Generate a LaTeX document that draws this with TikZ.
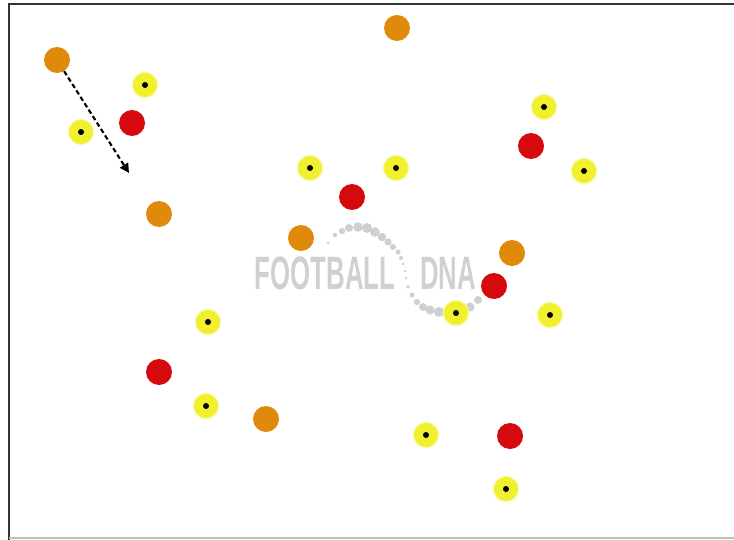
\documentclass[tikz,border=0pt]{standalone}
\usepackage{fontspec}
\setsansfont{Liberation Sans}
\usetikzlibrary{arrows.meta}
\definecolor{fdorange}{RGB}{224,138,12}
\definecolor{fdred}{RGB}{214,10,14}
\definecolor{fdyellow}{RGB}{240,240,46}
\definecolor{fdhalo}{RGB}{250,250,170}
\definecolor{fdgray}{RGB}{208,208,208}
\tikzset{
  oplayer/.style={circle, fill=fdorange, minimum size=0.78cm, inner sep=0pt},
  rplayer/.style={circle, fill=fdred, minimum size=0.78cm, inner sep=0pt},
  yplayer/.style={circle, fill=fdyellow, draw=fdhalo, line width=1pt,
                  minimum size=0.76cm, inner sep=0pt,
                  path picture={\fill[black] (path picture bounding box.center) circle (0.09cm);}},
  run/.style={draw, line width=1.8pt, dash pattern=on 4pt off 2.5pt,
              -{Triangle[length=8pt,width=8pt]}},
  wmark/.style={font=\sffamily\bfseries\fontsize{40}{40}\selectfont, text=fdgray, inner sep=0pt},
}

\begin{document}
\begin{tikzpicture}[x=0.03cm, y=-0.03cm]
  \useasboundingbox (0,0) rectangle (734,540);
  % Pitch edges
  \draw[line width=1.6pt, black!80] (9,540) -- (9,4) -- (734,4);
  \draw[line width=1pt, black!25] (9,538) -- (734,538);

  % Watermark
  \node[wmark, xscale=0.55] (wfoot) at (325,273) {FOOTBALL};
  \node[wmark, xscale=0.55] (wdna) at (448,273) {DNA};
  \foreach \x/\y/\r in {328/243/1.5, 335/235/2.3, 342/231/3.2, 349/228/4, 358/227/4.8,
                        367/228/5, 375/232/4.8, 382/237/4.2, 388/242/3.6, 393/247/3,
                        398/252/2.5, 401/258/2, 403/264/1.5, 405/271/1.3, 406/278/1.3,
                        408/287/1.8, 412/295/2.5, 417/302/3.2, 423/307/4, 430/310/4.6,
                        439/312/5, 470/307/4.6, 478/300/4}
    \fill[fdgray] (\x,\y) circle (\r*0.03cm);

  % Orange team
  \node[oplayer] (o1) at (57,60) {};
  \node[oplayer] (o2) at (397,28) {};
  \node[oplayer] (o3) at (159,214) {};
  \node[oplayer] (o4) at (301,238) {};
  \node[oplayer] (o5) at (512,253) {};
  \node[oplayer] (o6) at (266,419) {};

  % Red team
  \node[rplayer] (r1) at (132,123) {};
  \node[rplayer] (r2) at (352,197) {};
  \node[rplayer] (r3) at (531,146) {};
  \node[rplayer] (r4) at (494,286) {};
  \node[rplayer] (r5) at (159,372) {};
  \node[rplayer] (r6) at (510,436) {};

  % Yellow team
  \node[yplayer] (y1) at (145,85) {};
  \node[yplayer] (y2) at (81,132) {};
  \node[yplayer] (y3) at (310,168) {};
  \node[yplayer] (y4) at (396,168) {};
  \node[yplayer] (y5) at (544,107) {};
  \node[yplayer] (y6) at (584,171) {};
  \node[yplayer] (y7) at (208,322) {};
  \node[yplayer] (y8) at (456,313) {};
  \node[yplayer] (y9) at (550,315) {};
  \node[yplayer] (y10) at (206,406) {};
  \node[yplayer] (y11) at (426,435) {};
  \node[yplayer] (y12) at (506,489) {};

  % Run
  \coordinate (runend) at (129,173);
  \draw[run] (o1) -- (runend);
\end{tikzpicture}
\end{document}
